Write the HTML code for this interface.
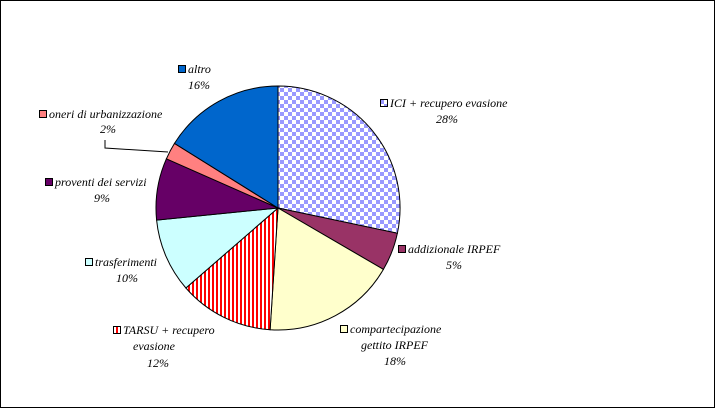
<!DOCTYPE html>
<html><head><style>
body{margin:0;background:#fff;}
svg text{font-family:"Liberation Serif",serif;font-style:italic;font-size:12px;fill:#000;}
</style></head><body>
<svg width="715" height="408" xmlns="http://www.w3.org/2000/svg">
<defs>
<pattern id="chk" width="8" height="8" patternUnits="userSpaceOnUse">
<rect width="8" height="8" fill="#fff"/>
<rect width="4" height="4" fill="#9999ff"/>
<rect x="4" y="4" width="4" height="4" fill="#9999ff"/>
</pattern>
<pattern id="str" width="4" height="4" patternUnits="userSpaceOnUse">
<rect width="4" height="4" fill="#fff"/>
<rect width="2" height="4" fill="#ff0000"/>
</pattern>
</defs>
<rect x="0.5" y="0.5" width="714" height="407" fill="#fff" stroke="#000"/>
<g stroke="#000" stroke-width="1">
<path d="M278,208 L278,86 A122,122 0 0 1 397.4,233.2 Z" fill="url(#chk)"/>
<path d="M278,208 L397.4,233.2 A122,122 0 0 1 383.4,269.4 Z" fill="#993366"/>
<path d="M278,208 L383.4,269.4 A122,122 0 0 1 270.1,329.7 Z" fill="#ffffcc"/>
<path d="M278,208 L270.1,329.7 A122,122 0 0 1 185.9,288 Z" fill="url(#str)"/>
<path d="M278,208 L185.9,288 A122,122 0 0 1 156.6,220.1 Z" fill="#ccffff"/>
<path d="M278,208 L156.6,220.1 A122,122 0 0 1 166.4,158.8 Z" fill="#660066"/>
<path d="M278,208 L166.4,158.8 A122,122 0 0 1 174.5,143.4 Z" fill="#ff8080"/>
<path d="M278,208 L174.5,143.4 A122,122 0 0 1 278,86 Z" fill="#0066cc"/>
<polyline points="105,140 105,148 168,152" fill="none"/>
</g>
<g stroke="#000">
<rect x="178.5" y="65.5" width="7" height="7" fill="#0066cc"/>
<rect x="39.5" y="110.5" width="7" height="7" fill="#ff8080"/>
<rect x="45.5" y="178.5" width="7" height="7" fill="#660066"/>
<rect x="85.5" y="258.5" width="7" height="7" fill="#ccffff"/>
<rect x="113.5" y="326.5" width="7" height="7" fill="url(#str)"/>
<rect x="380.5" y="99.5" width="7" height="7" fill="url(#chk)"/>
<rect x="398.5" y="245.5" width="7" height="7" fill="#993366"/>
<rect x="340.5" y="325.5" width="7" height="7" fill="#ffffcc"/>
</g>
<text x="188" y="73">altro</text>
<text x="188" y="89">16%</text>
<text x="49" y="118">oneri di urbanizzazione</text>
<text x="100" y="133">2%</text>
<text x="55" y="186">proventi dei servizi</text>
<text x="94" y="202">9%</text>
<text x="95" y="266">trasferimenti</text>
<text x="116" y="282">10%</text>
<text x="123" y="334">TARSU + recupero</text>
<text x="133" y="350">evasione</text>
<text x="147" y="367">12%</text>
<text x="390" y="107">ICI + recupero evasione</text>
<text x="436" y="123">28%</text>
<text x="408" y="253">addizionale IRPEF</text>
<text x="446" y="269">5%</text>
<text x="350" y="333">compartecipazione</text>
<text x="361" y="349">gettito IRPEF</text>
<text x="384" y="365">18%</text>
</svg>
</body></html>
